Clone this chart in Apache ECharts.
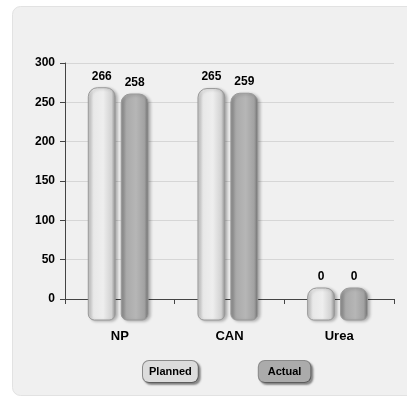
<!DOCTYPE html>
<html>
<head>
<meta charset="utf-8">
<script src="https://cdn.jsdelivr.net/npm/echarts@6/dist/echarts.min.js"></script>
<style>
  html, body { margin: 0; padding: 0; background: #fff; }
  #chart { width: 407px; height: 397px; }
</style>
</head>
<body>
<div id="chart"></div>
<script>
var categories = ['NP', 'CAN', 'Urea'];
var planned = [266, 265, 0];
var actual = [258, 259, 0];
var yTicks = [0, 50, 100, 150, 200, 250, 300];

var FONT = '"Liberation Sans", Arial, sans-serif';

var dom = document.getElementById('chart');
var myChart = echarts.init(dom, null, { renderer: 'canvas' });

var fills = [
  new echarts.graphic.LinearGradient(0, 0, 1, 0, [
    { offset: 0, color: '#c4c4c4' },
    { offset: 0.2, color: '#e8e8e8' },
    { offset: 0.55, color: '#eeeeee' },
    { offset: 0.85, color: '#d2d2d2' },
    { offset: 1, color: '#8c8c8c' }
  ]),
  new echarts.graphic.LinearGradient(0, 0, 1, 0, [
    { offset: 0, color: '#8a8a8a' },
    { offset: 0.2, color: '#aaaaaa' },
    { offset: 0.55, color: '#b6b6b6' },
    { offset: 0.85, color: '#a2a2a2' },
    { offset: 1, color: '#6c6c6c' }
  ])
];

// bar drawn as a rounded cylinder that runs a bit below the axis
function renderBar(params, api) {
  var idx = api.value(0);
  var val = api.value(1);
  var band = api.size([1, 0])[0];
  var base = api.coord([idx, 0]);
  var top = api.coord([idx, val]);
  var w = band * 0.245;
  var cx = base[0] + (params.seriesIndex === 0 ? -band * 0.165 : band * 0.135);
  var y0 = Math.min(top[1] - 2, base[1] - 11);
  var y1 = base[1] + 21;
  return {
    type: 'rect',
    shape: { x: cx - w / 2, y: y0, width: w, height: y1 - y0, r: [9, 9, 6, 6] },
    style: {
      fill: fills[params.seriesIndex],
      stroke: '#9a9a9a',
      lineWidth: 1,
      shadowBlur: 3,
      shadowOffsetX: 2,
      shadowOffsetY: 1,
      shadowColor: 'rgba(0,0,0,0.25)'
    },
    textContent: {
      style: { text: String(val), fill: '#000', font: 'bold 12px ' + FONT }
    },
    textConfig: { position: 'top', distance: 5 }
  };
}

function toData(arr) {
  return arr.map(function (v, i) { return [i, v]; });
}

var btn = {
  fontFamily: FONT,
  fontWeight: 'bold',
  fontSize: 11,
  color: '#000',
  borderColor: '#8a8a8a',
  borderWidth: 1,
  borderRadius: 6,
  shadowColor: 'rgba(0,0,0,0.35)',
  shadowBlur: 2,
  shadowOffsetX: 2,
  shadowOffsetY: 2
};

var option = {
  backgroundColor: '#ffffff',
  animation: false,
  graphic: [
    {
      type: 'rect',
      left: 12,
      top: 6,
      z: -10,
      shape: { width: 420, height: 389, r: 8 },
      style: { fill: '#f0f0f0', stroke: '#e2e2e2', lineWidth: 1 }
    }
  ],
  grid: { left: 65, right: 13, top: 63, bottom: 98 },
  legend: {
    left: 133,
    top: 355,
    itemGap: 55,
    itemWidth: 0,
    itemHeight: 0,
    icon: 'none',
    selectedMode: false,
    data: [
      { name: 'Planned', textStyle: Object.assign({}, btn, { backgroundColor: '#dcdcdc', padding: [5, 6, 5, 6] }) },
      { name: 'Actual', textStyle: Object.assign({}, btn, { backgroundColor: '#ababab', padding: [5, 9, 5, 9] }) }
    ]
  },
  xAxis: {
    type: 'category',
    data: categories,
    axisLine: { lineStyle: { color: '#444', width: 1 } },
    axisTick: { show: true, length: 5, lineStyle: { color: '#444' } },
    axisLabel: {
      margin: 31,
      color: '#000',
      fontFamily: FONT,
      fontWeight: 'bold',
      fontSize: 13
    }
  },
  yAxis: {
    type: 'value',
    min: yTicks[0],
    max: yTicks[yTicks.length - 1],
    interval: 50,
    axisLine: { show: true, lineStyle: { color: '#444', width: 1 } },
    axisTick: { show: true, length: 5, lineStyle: { color: '#444' } },
    axisLabel: {
      margin: 10,
      color: '#000',
      fontFamily: FONT,
      fontWeight: 'bold',
      fontSize: 12
    },
    splitLine: { lineStyle: { color: '#d6d6d6', width: 1 } }
  },
  series: [
    {
      name: 'Planned',
      type: 'custom',
      renderItem: renderBar,
      encode: { x: 0, y: 1 },
      data: toData(planned),
      itemStyle: { color: '#dcdcdc' }
    },
    {
      name: 'Actual',
      type: 'custom',
      renderItem: renderBar,
      encode: { x: 0, y: 1 },
      data: toData(actual),
      itemStyle: { color: '#ababab' }
    }
  ]
};

myChart.setOption(option);
window.addEventListener('resize', myChart.resize);
</script>
</body>
</html>
